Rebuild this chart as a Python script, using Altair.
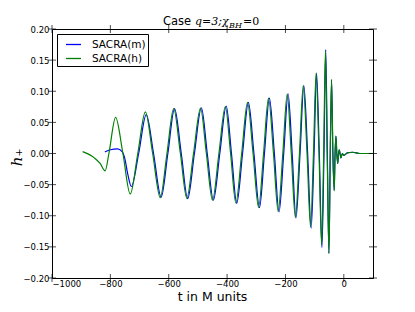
import altair as alt
import pandas as pd

# SACRA(h) (green) waveform samples: time t and strain h+
green_t = [-895, -855, -835, -818, -805, -782, -757, -732, -706, -680, -655, -629, -606, -583,
           -560, -538, -515, -491, -471, -450, -428, -406, -388, -370, -350, -330, -311, -292,
           -275, -258, -241, -225, -209, -194, -180, -166, -152, -139, -126, -114, -104, -95,
           -85, -76, -69, -63, -57, -51, -46.5, -42, -37.5, -33, -30, -27, -24, -21, -18,
           -15.5, -13, -10, -5, 0, 12, 30, 55, 100]
green_h = [0.003, -0.007, -0.016, -0.028, 0.0, 0.058, 0.0, -0.065, 0.0, 0.067, 0.0, -0.071, 0.0, 0.072,
           0.0, -0.072, 0.0, 0.073, 0.0, -0.075, 0.0, 0.0755, 0.0, -0.0795, 0.0, 0.082, 0.0, -0.0865,
           0.0, 0.089, 0.0, -0.093, 0.0, 0.0956, 0.0, -0.1025, 0.0, 0.109, 0.0, -0.118, 0.0, 0.129,
           0.0, -0.147, 0.0, 0.165, 0.0, -0.161, 0.0, 0.119, 0.0, -0.06, 0.0, 0.028, 0.0, -0.016, 0.0,
           0.006, 0.0, -0.007, 0.0, -0.003, 0.001, 0.002, 0.0, 0.0]

# SACRA(m) (blue) waveform samples
blue_t = [-819, -800, -775, -758, -751, -740, -728, -703, -677, -652, -626, -603, -580, -557,
          -535, -512, -488, -468, -447, -425, -403, -385, -367, -347, -327, -308, -289, -272,
          -255, -238, -222, -206, -191, -177, -164, -150, -137, -124, -112, -102, -93.5, -84,
          -75, -68, -62, -56.5, -51, -46.5, -42, -37.5, -33, -30, -27, -24, -21, -18,
          -15.5, -13, -10, -5, 0, 12, 30, 55, 100]
blue_h = [0.0025, 0.006, 0.0075, 0.002, -0.007, -0.034, -0.053, 0.0, 0.0625, 0.0, -0.070, 0.0, 0.072, 0.0,
          -0.0725, 0.0, 0.0735, 0.0, -0.075, 0.0, 0.076, 0.0, -0.080, 0.0, 0.082, 0.0, -0.087, 0.0,
          0.089, 0.0, -0.094, 0.0, 0.096, 0.0, -0.1035, 0.0, 0.109, 0.0, -0.12, 0.0, 0.129, 0.0,
          -0.151, 0.0, 0.167, 0.0, -0.16, 0.0, 0.118, 0.0, -0.059, 0.0, 0.028, 0.0, -0.016, 0.0,
          0.006, 0.0, -0.007, 0.0, -0.003, 0.001, 0.002, 0.0, 0.0]

series_names = ["SACRA(m)", "SACRA(h)"]
series_colors = ["#0000ff", "#008000"]

x_ticks = [-1000, -800, -600, -400, -200, 0]
y_ticks = [-0.20, -0.15, -0.10, -0.05, 0.0, 0.05, 0.10, 0.15, 0.20]

W, H = 321, 249

df_blue = pd.DataFrame({"t": blue_t, "h": blue_h, "series": series_names[0]})
df_green = pd.DataFrame({"t": green_t, "h": green_h, "series": series_names[1]})

xscale = alt.Scale(domain=[-1000, 100], nice=False, zero=False)
yscale = alt.Scale(domain=[-0.2, 0.2], nice=False)
cscale = alt.Scale(domain=series_names, range=series_colors)

xaxis = alt.Axis(values=x_ticks, ticks=False, domain=False, grid=False, format="d",
                 labelFont="DejaVu Sans", labelFontSize=8.5, labelColor="black", labelPadding=1,
                 labelOverlap=False,
                 title="t in M units", titleFont="DejaVu Sans", titleFontSize=12.5,
                 titleFontWeight="normal", titleColor="black",
                 titleX=160, titleY=22.5, titleBaseline="alphabetic", titleAlign="center")
yaxis = alt.Axis(values=y_ticks, ticks=False, domain=False, grid=False, format=".2f",
                 labelFont="DejaVu Sans", labelFontSize=8.5, labelColor="black", labelPadding=3,
                 labelOverlap=False,
                 title="h\u208a", titleFont="DejaVu Serif", titleFontSize=15,
                 titleFontStyle="italic", titleFontWeight="normal", titleColor="black",
                 titleX=-31, titleY=128, titleAngle=270, titleBaseline="alphabetic")

legend = alt.Legend(title=None, orient="top-left", offset=5, strokeColor="black",
                    fillColor="white", padding=2, cornerRadius=0,
                    symbolType="stroke", symbolSize=225, symbolStrokeWidth=1.3, symbolOffset=6,
                    labelFont="DejaVu Sans", labelFontSize=10.5, labelColor="black",
                    labelOffset=10, rowPadding=0)

blue_line = alt.Chart(df_blue).mark_line(interpolate="monotone", strokeWidth=1.2).encode(
    x=alt.X("t:Q", scale=xscale, axis=xaxis),
    y=alt.Y("h:Q", scale=yscale, axis=yaxis),
    color=alt.Color("series:N", scale=cscale, legend=legend),
)
green_line = alt.Chart(df_green).mark_line(interpolate="monotone", strokeWidth=1.2).encode(
    x=alt.X("t:Q", scale=xscale, axis=xaxis),
    y=alt.Y("h:Q", scale=yscale, axis=yaxis),
    color=alt.Color("series:N", scale=cscale, legend=legend),
)

# inward ticks on all four sides
df_xt = pd.DataFrame({"v": x_ticks})
df_yt = pd.DataFrame({"v": y_ticks})
xt_bottom = alt.Chart(df_xt).mark_tick(orient="vertical", size=8, thickness=1, color="black").encode(
    x=alt.X("v:Q", scale=xscale, axis=xaxis), y=alt.value(H))
xt_top = alt.Chart(df_xt).mark_tick(orient="vertical", size=8, thickness=1, color="black").encode(
    x=alt.X("v:Q", scale=xscale, axis=xaxis), y=alt.value(0))
yt_left = alt.Chart(df_yt).mark_tick(orient="horizontal", size=8, thickness=1, color="black").encode(
    y=alt.Y("v:Q", scale=yscale, axis=yaxis), x=alt.value(0))
yt_right = alt.Chart(df_yt).mark_tick(orient="horizontal", size=8, thickness=1, color="black").encode(
    y=alt.Y("v:Q", scale=yscale, axis=yaxis), x=alt.value(W))

# title pieces: "Case " + math "q=3;χ_BH=0"
title_case = alt.Chart(pd.DataFrame({"s": ["Case"]})).mark_text(
    font="DejaVu Sans", fontSize=11.5, align="left", baseline="alphabetic", color="black").encode(
    text="s:N", x=alt.value(111), y=alt.value(-4))
title_math = alt.Chart(pd.DataFrame({"s": ["q=3;\u03c7"]})).mark_text(
    font="DejaVu Serif", fontSize=11, fontStyle="italic", align="left", baseline="alphabetic",
    color="black").encode(text="s:N", x=alt.value(143), y=alt.value(-4))
title_sub = alt.Chart(pd.DataFrame({"s": ["BH"]})).mark_text(
    font="DejaVu Serif", fontSize=8, fontStyle="italic", align="left", baseline="alphabetic",
    color="black").encode(text="s:N", x=alt.value(177), y=alt.value(-1))
title_end = alt.Chart(pd.DataFrame({"s": ["=0"]})).mark_text(
    font="DejaVu Serif", fontSize=11, align="left", baseline="alphabetic", color="black").encode(
    text="s:N", x=alt.value(191), y=alt.value(-4))

chart = alt.layer(
    blue_line, green_line, xt_bottom, xt_top, yt_left, yt_right,
    title_case, title_math, title_sub, title_end
).properties(
    width=W, height=H,
    autosize=alt.AutoSizeParams(type="none"),
    padding={"left": 44, "top": 21, "right": 34, "bottom": 26},
    background="white",
).configure_view(
    stroke="black", strokeWidth=1, fill="white"
)

chart.save("out.html", embed_options={"renderer": "svg", "actions": False})
